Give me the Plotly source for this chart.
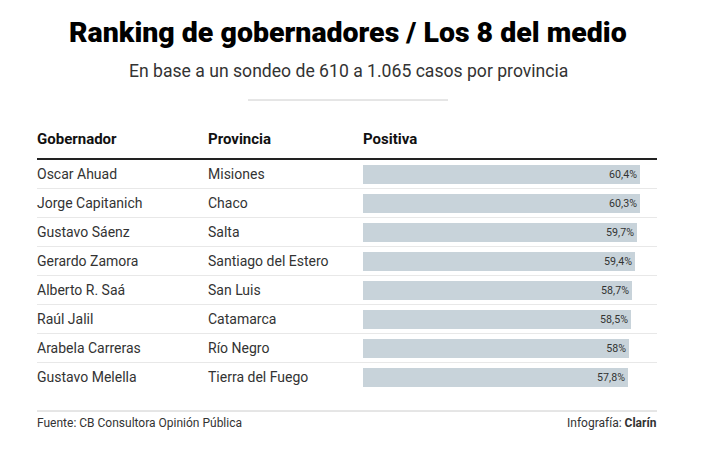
import plotly.graph_objects as go

gobernadores = ["Oscar Ahuad", "Jorge Capitanich", "Gustavo Sáenz", "Gerardo Zamora",
                "Alberto R. Saá", "Raúl Jalil", "Arabela Carreras", "Gustavo Melella"]
provincias = ["Misiones", "Chaco", "Salta", "Santiago del Estero",
              "San Luis", "Catamarca", "Río Negro", "Tierra del Fuego"]
positiva = [60.4, 60.3, 59.7, 59.4, 58.7, 58.5, 58.0, 57.8]

W, H = 705, 455
def px(x):
    return x / W
def py(y):
    return 1 - y / H

labels = [f"{v:g}".replace(".", ",") + "%" for v in positiva]
idx = list(range(len(positiva)))

TXT = "#333333"
FONT = "Roboto, 'Noto Sans', sans-serif"

fig = go.Figure()
fig.add_trace(go.Bar(
    x=positiva, y=idx, orientation="h", width=0.68,
    marker=dict(color="#c8d3da", line=dict(width=0)),
    text=labels, textposition="inside", insidetextanchor="end",
    textfont=dict(family=FONT, size=11.5, color=TXT),
    hoverinfo="skip",
))

annotations = []
for i, (g, p) in enumerate(zip(gobernadores, provincias)):
    annotations.append(dict(x=px(37), y=i, xref="paper", yref="y", text=g, xshift=-2,
                            showarrow=False, xanchor="left", yanchor="middle",
                            font=dict(family=FONT, size=14, color=TXT)))
    annotations.append(dict(x=px(208), y=i, xref="paper", yref="y", text=p, xshift=-2,
                            showarrow=False, xanchor="left", yanchor="middle",
                            font=dict(family=FONT, size=14, color=TXT)))

for txt, x in [("Gobernador", 37), ("Provincia", 208), ("Positiva", 363)]:
    annotations.append(dict(x=px(x), y=py(139), xref="paper", yref="paper", xshift=-2,
                            text=f"<b>{txt}</b>", showarrow=False,
                            xanchor="left", yanchor="middle",
                            font=dict(family=FONT, size=15, color="#111111")))

annotations.append(dict(x=px(348), y=py(33), xref="paper", yref="paper",
                        text="Ranking de gobernadores / Los 8 del medio",
                        showarrow=False, xanchor="center", yanchor="middle",
                        font=dict(family=FONT, size=28.5, color="#000000", weight=900)))
annotations.append(dict(x=px(348), y=py(71), xref="paper", yref="paper",
                        text="En base a un sondeo de 610 a 1.065 casos por provincia",
                        showarrow=False, xanchor="center", yanchor="middle",
                        font=dict(family=FONT, size=17.6, color=TXT)))
annotations.append(dict(x=px(37), y=py(423), xref="paper", yref="paper", xshift=-2,
                        text="Fuente: CB Consultora Opinión Pública",
                        showarrow=False, xanchor="left", yanchor="middle",
                        font=dict(family=FONT, size=12, color=TXT)))
annotations.append(dict(x=px(657), y=py(423), xref="paper", yref="paper", xshift=2,
                        text="Infografía: <b>Clarín</b>",
                        showarrow=False, xanchor="right", yanchor="middle",
                        font=dict(family=FONT, size=12, color=TXT)))

shapes = []
shapes.append(dict(type="line", xref="paper", yref="paper", x0=px(248), x1=px(448),
                   y0=py(100), y1=py(100), line=dict(color="#cccccc", width=1)))
shapes.append(dict(type="line", xref="paper", yref="paper", x0=px(37), x1=px(657),
                   y0=py(159), y1=py(159), line=dict(color="#222222", width=2)))
for i in range(len(positiva) - 1):
    shapes.append(dict(type="line", xref="paper", yref="y", x0=px(37), x1=px(657),
                       y0=i + 0.5, y1=i + 0.5, line=dict(color="#e8e8e8", width=1)))
shapes.append(dict(type="line", xref="paper", yref="paper", x0=px(37), x1=px(657),
                   y0=py(411), y1=py(411), line=dict(color="#cccccc", width=1)))

fig.update_layout(
    width=W, height=H,
    margin=dict(l=0, r=0, t=0, b=0),
    paper_bgcolor="white", plot_bgcolor="white",
    showlegend=False,
    xaxis=dict(domain=[px(363), px(657)], range=[0, 64.1], visible=False, fixedrange=True),
    yaxis=dict(domain=[py(159.5 + 29 * 8), py(159.5)], range=[7.5, -0.5],
               visible=False, fixedrange=True),
    annotations=annotations, shapes=shapes,
    bargap=0,
)

fig.write_html("out.html", config={"displayModeBar": False},
               post_script="document.body.style.margin='0';document.body.style.overflow='hidden';")
